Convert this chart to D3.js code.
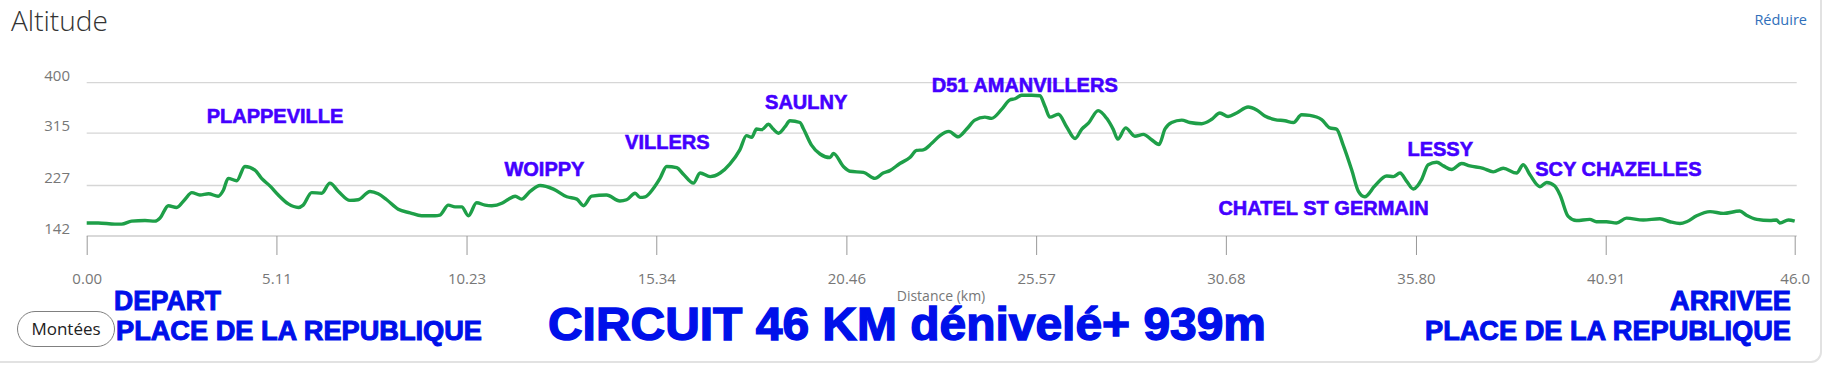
<!DOCTYPE html>
<html>
<head>
<meta charset="utf-8">
<script src="https://cdn.jsdelivr.net/npm/d3@7"></script>
<style>
  body { margin: 0; background: #fff; }
  svg { display: block; }
</style>
</head>
<body>
<div id="altChart"></div>
<script>
// distance along the route (km) and altitude (m)
var distKm = [0.00, 0.31, 0.76, 0.94, 1.21, 1.57, 1.84, 1.97, 2.20, 2.42, 2.65, 2.83, 3.05, 3.28, 3.54, 3.68, 3.81, 4.04, 4.26, 4.53,
  4.71, 4.94, 5.16, 5.43, 5.70, 5.83, 6.06, 6.33, 6.55, 6.78, 7.09, 7.31, 7.63, 7.85, 8.08, 8.39, 8.71, 9.02, 9.38, 9.51,
  9.74, 9.92, 10.10, 10.28, 10.50, 10.73, 10.91, 11.18, 11.36, 11.54, 11.71, 11.94, 12.21, 12.57, 12.93, 13.20, 13.38, 13.60, 14.00, 14.36,
  14.54, 14.77, 14.90, 15.04, 15.26, 15.44, 15.62, 15.89, 16.07, 16.34, 16.52, 16.79, 17.06, 17.32, 17.59, 17.77, 17.91, 18.04, 18.18, 18.36,
  18.49, 18.63, 18.81, 18.94, 19.21, 19.30, 19.52, 19.75, 20.02, 20.11, 20.38, 20.56, 20.92, 21.23, 21.45, 21.63, 21.90, 22.17, 22.35, 22.53,
  22.76, 22.98, 23.22, 23.47, 23.70, 23.92, 24.19, 24.37, 24.64, 24.86, 25.00, 25.18, 25.45, 25.67, 25.81, 25.94, 26.17, 26.39, 26.62, 26.80,
  26.98, 27.24, 27.47, 27.65, 27.77, 27.98, 28.23, 28.46, 28.68, 28.88, 29.04, 29.22, 29.49, 29.71, 30.03, 30.29, 30.52, 30.74, 30.97, 31.28,
  31.51, 31.73, 32.00, 32.27, 32.50, 32.72, 32.94, 33.26, 33.48, 33.66, 33.84, 34.07, 34.25, 34.42, 34.69, 35.01, 35.19, 35.37, 35.55, 35.73,
  35.95, 36.13, 36.36, 36.54, 36.76, 37.03, 37.25, 37.61, 37.88, 38.15, 38.51, 38.69, 38.87, 39.14, 39.32, 39.54, 39.68, 39.90, 40.12, 40.48,
  40.66, 40.93, 41.20, 41.47, 41.92, 42.37, 42.64, 42.91, 43.09, 43.36, 43.72, 44.08, 44.52, 44.70, 44.98, 45.33, 45.51, 45.60, 45.83, 46.00];

var altitude = [164, 164, 162, 162, 167, 168, 167, 172, 193, 190, 204, 215, 211, 213, 209, 219, 239, 235, 259, 253,
  239, 226, 211, 196, 190, 194, 215, 214, 231, 217, 202, 203, 217, 213, 203, 187, 181, 176, 176, 177,
  194, 191, 191, 176, 198, 194, 193, 197, 204, 209, 204, 217, 227, 221, 208, 204, 193, 209, 211, 201,
  203, 214, 207, 208, 222, 239, 259, 257, 246, 231, 248, 242, 248, 263, 287, 311, 308, 322, 321, 330,
  322, 315, 326, 336, 333, 323, 295, 280, 274, 281, 259, 251, 249, 239, 248, 252, 264, 274, 286, 287,
  298, 311, 318, 309, 322, 337, 342, 340, 355, 371, 373, 379, 379, 378, 360, 342, 347, 326, 306, 322,
  332, 353, 340, 321, 305, 324, 310, 313, 304, 296, 322, 333, 337, 333, 331, 338, 349, 343, 349, 359,
  354, 344, 338, 336, 333, 346, 345, 338, 324, 322, 295, 253, 217, 208, 226, 243, 242, 248, 234, 221,
  237, 262, 266, 260, 254, 264, 260, 256, 250, 256, 248, 262, 245, 225, 232, 226, 211, 175, 168, 170,
  166, 166, 164, 172, 169, 171, 166, 163, 166, 176, 183, 180, 184, 177, 170, 168, 169, 164, 169, 167];

var xTicks = [0, 5.11, 10.23, 15.34, 20.46, 25.57, 30.68, 35.80, 40.91, 46.0];
var xTickLabels = ["0.00", "5.11", "10.23", "15.34", "20.46", "25.57", "30.68", "35.80", "40.91", "46.0"];
var yTicks = [142, 227, 315, 400];

// place names written on the profile, anchored at (km, altitude)
var placeNames = ["PLAPPEVILLE", "WOIPPY", "VILLERS", "SAULNY", "D51 AMANVILLERS", "CHATEL ST GERMAIN", "LESSY", "SCY CHAZELLES"];
var placeKm = [3.23, 11.25, 14.50, 18.27, 22.76, 30.48, 35.57, 39.01];
var placeAlt = [332, 243, 288, 355, 385, 177, 277, 243];

var W = 1829, H = 365;
var svg = d3.select("#altChart").append("svg")
  .attr("width", W)
  .attr("height", H);

// card
svg.append("rect")
  .attr("x", -12).attr("y", -12)
  .attr("width", 1833).attr("height", 374)
  .attr("rx", 10)
  .attr("fill", "#fff")
  .attr("stroke", "#e2e2e2")
  .attr("stroke-width", 2);

var x = d3.scaleLinear().domain([0, 46]).range([86.7, 1794.7]);
var y = d3.scaleLinear().domain([142, 400]).range([236, 82.7]);

svg.append("text")
  .attr("x", 11).attr("y", 30.5)
  .attr("font-family", "'Open Sans', sans-serif")
  .attr("font-weight", 300)
  .attr("font-size", 28)
  .attr("fill", "#333")
  .text("Altitude");

svg.append("text")
  .attr("x", 1807).attr("y", 25)
  .attr("text-anchor", "end")
  .attr("font-family", "'Open Sans', sans-serif")
  .attr("font-size", 14.5)
  .attr("fill", "#2f6fba")
  .text("Réduire");

// gridlines + y labels
var grid = svg.append("g");
grid.selectAll("line")
  .data(yTicks.slice(1))
  .enter().append("line")
  .attr("x1", x(0)).attr("x2", x(46) + 2)
  .attr("y1", function(d) { return y(d); })
  .attr("y2", function(d) { return y(d); })
  .attr("stroke", "#d6d6d6")
  .attr("stroke-width", 1.3);

grid.selectAll("text")
  .data(yTicks)
  .enter().append("text")
  .attr("x", 70)
  .attr("y", function(d) { return y(d) - 2; })
  .attr("text-anchor", "end")
  .attr("font-family", "'Open Sans', sans-serif")
  .attr("font-size", 15)
  .attr("fill", "#777")
  .text(function(d) { return d; });

// x axis
var xAxis = d3.axisBottom(x)
  .tickValues(xTicks)
  .tickSize(19)
  .tickPadding(18)
  .tickFormat(function(d, i) { return xTickLabels[i]; });

var gx = svg.append("g")
  .attr("transform", "translate(0," + y(142) + ")")
  .call(xAxis);
gx.select(".domain").attr("stroke", "#ccc").attr("stroke-width", 1.3).attr("d", "M" + x(0) + ",0H" + (x(46) + 2));
gx.selectAll(".tick line").attr("stroke", "#999");
gx.selectAll(".tick text")
  .attr("font-family", "'Open Sans', sans-serif")
  .attr("font-size", 15)
  .attr("fill", "#777");

svg.append("text")
  .attr("x", 941).attr("y", 301)
  .attr("text-anchor", "middle")
  .attr("font-family", "'Open Sans', sans-serif")
  .attr("font-size", 14)
  .attr("fill", "#777")
  .text("Distance (km)");

// profile line
var line = d3.line()
  .x(function(d) { return x(d[0]); })
  .y(function(d) { return y(d[1]); })
  .curve(d3.curveMonotoneX);

svg.append("path")
  .datum(d3.zip(distKm, altitude))
  .attr("fill", "none")
  .attr("stroke", "#1e9f48")
  .attr("stroke-width", 3.4)
  .attr("stroke-linejoin", "round")
  .attr("d", line);

// place names
svg.append("g").selectAll("text")
  .data(placeNames)
  .enter().append("text")
  .attr("x", function(d, i) { return x(placeKm[i]); })
  .attr("y", function(d, i) { return y(placeAlt[i]); })
  .attr("font-family", "'Liberation Sans', Arial, sans-serif")
  .attr("font-weight", "bold")
  .attr("font-size", 20)
  .attr("fill", "#4400ff")
  .attr("stroke", "#4400ff")
  .attr("stroke-width", 0.6)
  .text(function(d) { return d; });

// bottom notes
var blue = "#0010ea";
function note(txt, px, py, size, anchor, len, sw) {
  svg.append("text")
    .attr("x", px).attr("y", py)
    .attr("text-anchor", anchor)
    .attr("font-family", "'Liberation Sans', Arial, sans-serif")
    .attr("font-weight", "bold")
    .attr("font-size", size)
    .attr("fill", blue)
    .attr("stroke", blue)
    .attr("stroke-width", sw)
    .attr("textLength", len)
    .attr("lengthAdjust", "spacingAndGlyphs")
    .text(txt);
}
note("DEPART", 114, 310, 27, "start", 107, 1);
note("PLACE DE LA REPUBLIQUE", 116, 340, 27, "start", 366, 1);
note("ARRIVEE", 1791, 310, 27, "end", 121, 1);
note("PLACE DE LA REPUBLIQUE", 1791, 340, 27, "end", 366, 1);
note("CIRCUIT 46 KM dénivelé+ 939m", 548, 340, 46, "start", 718, 1.4);

// Montées button
svg.append("rect")
  .attr("x", 17.5).attr("y", 311.5)
  .attr("width", 97).attr("height", 35)
  .attr("rx", 17.5)
  .attr("fill", "#fff")
  .attr("stroke", "#808080")
  .attr("stroke-width", 1);
svg.append("text")
  .attr("x", 66).attr("y", 335)
  .attr("text-anchor", "middle")
  .attr("font-family", "'Open Sans', sans-serif")
  .attr("font-size", 17)
  .attr("fill", "#222")
  .text("Montées");
</script>
</body>
</html>
